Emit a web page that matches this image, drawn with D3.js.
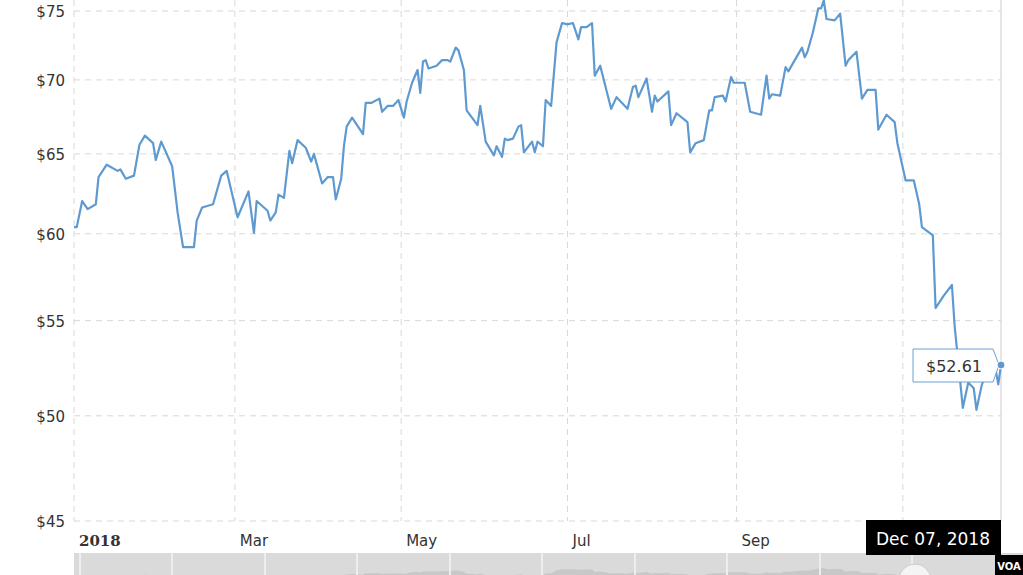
<!DOCTYPE html>
<html><head><meta charset="utf-8">
<script src="https://d3js.org/d3.v7.min.js"></script>
<style>body{margin:0;background:#fff;}svg{display:block;font-family:"DejaVu Sans",Verdana,sans-serif;}</style>
</head><body><svg id="c" width="1023" height="575"></svg>
<script>
const days = [0,1,3,5,8,9,12,16,17,19,22,24,26,29,30,32,36,38,40,44,45,47,51,54,56,60,64,66,67,71,72,74,75,77,79,80,82,85,87,88,91,93,95,96,98,99,100,102,106,107,109,112,113,115,117,119,121,122,124,126,127,128,129,130,133,135,137,138,140,141,142,143,144,148,149,151,154,155,157,158,159,161,163,164,165,168,169,170,172,173,175,177,179,181,183,185,186,188,190,191,193,197,199,203,205,206,207,210,212,213,214,218,219,221,225,226,228,231,233,234,235,238,239,241,242,246,248,252,254,255,256,259,261,262,267,268,269,271,273,274,275,276,279,281,283,284,287,289,291,294,295,298,301,302,305,308,310,311,315,316,319,322,323,326,328,330,331,333,334,337,339,340];
const prices = [60.4,60.4,62.0,61.5,61.8,63.5,64.3,63.9,64.0,63.4,63.6,65.6,66.2,65.7,64.6,65.8,64.2,61.3,59.2,59.2,60.8,61.6,61.8,63.6,63.9,61.0,62.6,60.05,62.0,61.4,60.8,61.3,62.4,62.2,65.2,64.4,65.9,65.4,64.5,65.0,63.1,63.5,63.5,62.1,63.4,65.5,66.8,67.4,66.3,68.4,68.4,68.7,67.8,68.2,68.2,68.6,67.4,68.5,69.8,70.7,69.1,71.3,71.4,70.8,71.0,71.4,71.4,71.3,72.3,72.1,71.4,70.7,67.9,66.9,68.2,65.8,64.9,65.5,64.8,66.0,65.9,66.0,66.8,66.9,65.1,65.8,65.1,65.8,65.5,68.6,68.2,72.7,74.1,74.0,74.1,72.9,73.8,73.8,74.1,70.3,71.0,68.0,68.8,68.0,69.5,69.6,68.8,70.1,67.8,68.9,68.5,69.2,66.9,67.7,67.1,65.1,65.7,65.9,67.9,67.9,68.8,68.9,68.5,70.2,69.8,69.8,67.8,67.6,70.3,68.7,69.0,68.9,70.9,70.6,72.3,71.6,72.0,73.4,75.2,75.2,75.8,74.4,74.3,74.8,71.0,71.4,72.0,68.7,69.3,69.3,66.6,67.6,67.1,65.7,63.3,63.3,61.8,60.4,59.9,55.7,56.4,57.0,54.7,50.4,51.7,51.4,50.3,51.6,51.9,53.2,51.6,52.61];
const yTicks = [45,50,55,60,65,70,75];
const xTicks = [["2018",0],["Mar",59],["May",120],["Jul",181],["Sep",243],["Nov",304]];
const lastLabel = "Dec 07, 2018";
const lastPrice = "$52.61";

const base = new Date(2018,0,1);
const dt = d => new Date(2018,0,1+d);
const data = days.map((d,i)=>({date:dt(d),v:prices[i]}));
const svg = d3.select("#c");
const x = d3.scaleTime().domain([base, dt(340)]).range([74,1001]);
const y = d3.scaleLog().domain([45,75]).range([521,11]);

svg.append("g").selectAll("line").data(yTicks).join("line")
  .attr("x1",74).attr("x2",1001).attr("y1",d=>y(d)).attr("y2",d=>y(d))
  .attr("stroke","#d8d8d8").attr("stroke-dasharray","6,5");
svg.append("g").selectAll("line").data(xTicks).join("line")
  .attr("x1",d=>x(dt(d[1]))).attr("x2",d=>x(dt(d[1]))).attr("y1",0).attr("y2",521)
  .attr("stroke","#d8d8d8").attr("stroke-dasharray","6,5");
svg.append("line").attr("x1",1001).attr("x2",1001).attr("y1",0).attr("y2",521).attr("stroke","#ccc");

svg.append("g").selectAll("text").data(yTicks).join("text")
  .attr("x",65).attr("y",d=>y(d)+6).attr("text-anchor","end")
  .attr("font-size",15).attr("fill","#333").text(d=>"$"+d);
svg.append("g").selectAll("text").data(xTicks.slice(0,5)).join("text")
  .attr("x",d=>x(dt(d[1]))+5).attr("y",546)
  .attr("font-size",15).attr("fill","#333")
  .attr("font-weight",(d,i)=>i===0?"bold":"normal")
  .attr("font-family",(d,i)=>i===0?"DejaVu Serif, serif":null)
  .text(d=>d[0]);

const nav = svg.append("g");
nav.append("rect").attr("x",74).attr("y",553).attr("width",949).attr("height",22).attr("fill","#dadada");
const ny = d3.scaleLinear().domain([45,80]).range([590,565]);
nav.append("path").datum(data).attr("fill","#c8c8c8")
  .attr("d",d3.area().x(d=>x(d.date)).y0(575).y1(d=>ny(d.v)));
nav.selectAll("line.sep").data([80,172,265,357,450,542,635,727,820,912]).join("line")
  .attr("x1",d=>d).attr("x2",d=>d).attr("y1",553).attr("y2",575).attr("stroke","#eee").attr("stroke-width",2);
nav.append("circle").attr("cx",915).attr("cy",580).attr("r",16).attr("fill","#f4f4f4").attr("stroke","#ccc");

svg.append("path").datum(data).attr("fill","none").attr("stroke","#5e9ad0").attr("stroke-width",2.2)
  .attr("stroke-linejoin","round")
  .attr("d",d3.line().x(d=>x(d.date)).y(d=>y(d.v)));

const last = data[data.length-1];
const lx = x(last.date), ly = y(last.v);
svg.append("path").attr("d",`M913,349 H993 L999,${ly} L993,382 H913 Z`)
  .attr("fill","#fff").attr("stroke","#6aa0d6");
svg.append("text").attr("x",954).attr("y",372).attr("text-anchor","middle")
  .attr("font-size",16).attr("fill","#333").text(lastPrice);
svg.append("circle").attr("cx",lx).attr("cy",ly).attr("r",4).attr("fill","#5e9ad0").attr("stroke","#fff");

svg.append("rect").attr("x",866).attr("y",520).attr("width",135).attr("height",35).attr("fill","#000");
svg.append("text").attr("x",933).attr("y",545).attr("text-anchor","middle")
  .attr("font-size",17).attr("fill","#fff").text(lastLabel);

svg.append("rect").attr("x",995).attr("y",555).attr("width",28).attr("height",20).attr("fill","#000");
svg.append("text").attr("x",1009).attr("y",570).attr("text-anchor","middle")
  .attr("font-size",10).attr("font-weight","bold").attr("fill","#fff").text("VOA");
</script></body></html>
